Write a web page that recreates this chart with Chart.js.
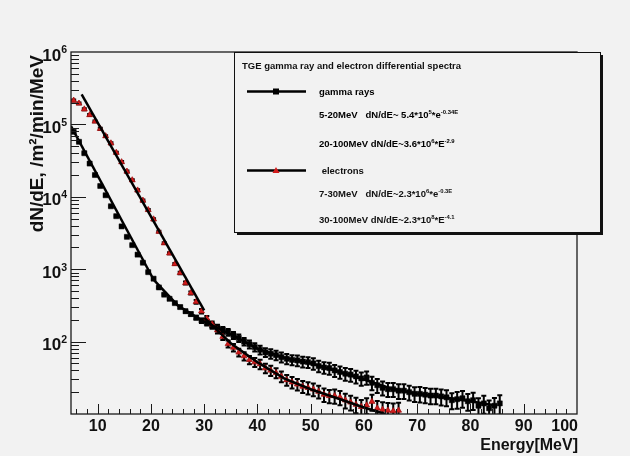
<!DOCTYPE html>
<html>
<head>
<meta charset="utf-8">
<title>TGE gamma ray and electron differential spectra</title>
<script src="https://cdn.jsdelivr.net/npm/chart.js@4.4.0/dist/chart.umd.min.js"></script>
<style>
  html, body { margin: 0; padding: 0; background: #f2f2f2; }
  canvas { display: block; }
</style>
</head>
<body>
<canvas id="spectra" width="630" height="456"></canvas>
<script>
// Gamma rays, 1 MeV bins
const gammaEnergy = [
  5.5, 6.5, 7.5, 8.5, 9.5, 10.5, 11.5, 12.5, 13.5, 14.5,
  15.5, 16.5, 17.5, 18.5, 19.5, 20.5, 21.5, 22.5, 23.5, 24.5,
  25.5, 26.5, 27.5, 28.5, 29.5, 30.5, 31.5, 32.5, 33.5, 34.5,
  35.5, 36.5, 37.5, 38.5, 39.5, 40.5, 41.5, 42.5, 43.5, 44.5,
  45.5, 46.5, 47.5, 48.5, 49.5, 50.5, 51.5, 52.5, 53.5, 54.5,
  55.5, 56.5, 57.5, 58.5, 59.5, 60.5, 61.5, 62.5, 63.5, 64.5,
  65.5, 66.5, 67.5, 68.5, 69.5, 70.5, 71.5, 72.5, 73.5, 74.5,
  75.5, 76.5, 77.5, 78.5, 79.5, 80.5, 81.5, 82.5, 83.5, 84.5,
  85.5
];
const gammaFlux = [
  79000, 57500, 40000, 28800, 20000, 14100, 10500, 7400, 5400, 3900,
  2800, 2150, 1590, 1230, 910, 740, 560, 445, 390, 340,
  300, 263, 240, 214, 195, 182, 166, 155, 145, 135,
  122, 112, 100, 92, 84, 77, 71, 68, 65, 61,
  58, 56, 55, 53, 52, 50, 46, 44, 43, 40,
  38, 36, 35, 33, 31, 32, 27, 25, 23, 22,
  22, 21, 21, 20, 19, 19, 18.5, 18, 18, 17.5,
  17, 15.5, 16, 16.5, 15, 15.5, 13, 14, 12, 13,
  14
];
// relative error of each gamma bin
const gammaErr = [
  0.02, 0.02, 0.02, 0.02, 0.02, 0.02, 0.02, 0.02, 0.02, 0.02,
  0.02, 0.02, 0.02, 0.02, 0.02, 0.02, 0.02, 0.02, 0.02, 0.02,
  0.04, 0.05, 0.05, 0.06, 0.07, 0.08, 0.09, 0.10, 0.10, 0.11,
  0.11, 0.12, 0.12, 0.13, 0.13, 0.14, 0.14, 0.15, 0.15, 0.16,
  0.16, 0.16, 0.17, 0.17, 0.17, 0.18, 0.18, 0.18, 0.19, 0.19,
  0.19, 0.20, 0.20, 0.20, 0.21, 0.21, 0.21, 0.22, 0.22, 0.22,
  0.22, 0.23, 0.23, 0.23, 0.23, 0.24, 0.24, 0.24, 0.24, 0.25,
  0.25, 0.25, 0.26, 0.26, 0.26, 0.27, 0.27, 0.28, 0.28, 0.28,
  0.30
];

// Electrons, 1 MeV bins
const electronEnergy = [
  5.5, 6.5, 7.5, 8.5, 9.5, 10.5, 11.5, 12.5, 13.5, 14.5,
  15.5, 16.5, 17.5, 18.5, 19.5, 20.5, 21.5, 22.5, 23.5, 24.5,
  25.5, 26.5, 27.5, 28.5, 29.5, 30.5, 31.5, 32.5, 33.5, 34.5,
  35.5, 36.5, 37.5, 38.5, 39.5, 40.5, 41.5, 42.5, 43.5, 44.5,
  45.5, 46.5, 47.5, 48.5, 49.5, 50.5, 51.5, 52.5, 53.5, 54.5,
  55.5, 56.5, 57.5, 58.5, 59.5, 60.5, 61.5, 62.5, 63.5, 64.5,
  65.5, 66.5
];
const electronFlux = [
  214000, 195000, 162000, 135000, 110000, 87000, 69000, 55000, 40700, 30200,
  22400, 17000, 12300, 8900, 6600, 4900, 3310, 2290, 1660, 1180,
  890, 645, 470, 355, 263, 209, 174, 144, 117, 93,
  83, 71, 63, 56, 52, 49, 43, 40, 37, 33,
  29.5, 27.5, 25.7, 24, 23, 21.9, 20.4, 18.6, 17.8, 17.8,
  17, 15.5, 14.5, 13.5, 12.6, 13.2, 14.8, 12, 11.5, 11.2,
  11, 11.2
];
const electronErr = [
  0.03, 0.03, 0.03, 0.03, 0.03, 0.03, 0.03, 0.03, 0.03, 0.03,
  0.03, 0.03, 0.03, 0.03, 0.03, 0.03, 0.03, 0.03, 0.03, 0.03,
  0.04, 0.05, 0.05, 0.06, 0.07, 0.08, 0.09, 0.10, 0.10, 0.11,
  0.12, 0.12, 0.13, 0.13, 0.14, 0.15, 0.15, 0.16, 0.16, 0.17,
  0.17, 0.18, 0.18, 0.19, 0.19, 0.20, 0.20, 0.21, 0.21, 0.22,
  0.22, 0.23, 0.23, 0.24, 0.24, 0.25, 0.25, 0.26, 0.26, 0.27,
  0.27, 0.28
];

// Fit curves as drawn on the plot
const gammaExpFitE = [5, 20.5];
const gammaExpFitY = [95000, 720];
const gammaPowFitE = [20.5, 25, 30, 35, 40, 45, 50, 55, 60, 65, 70, 75, 80, 85];
const gammaPowFitY = [720, 318, 188, 126, 80, 60, 50, 39, 30, 22.5, 19, 17, 15, 13];
const electronExpFitE = [7, 30];
const electronExpFitY = [260000, 270];
const electronPowFitE = [30, 35, 40, 45, 50, 55, 60, 64];
const electronPowFitY = [215, 95, 52, 31, 22, 16.5, 12.3, 10];

// Axes
const xMajorTicks = [10, 20, 30, 40, 50, 60, 70, 80, 90, 100];
const xTickLabels = ['10', '20', '30', '40', '50', '60', '70', '80', '90', '100'];
const yMajorTicks = [1e2, 1e3, 1e4, 1e5, 1e6];
const yTickExponents = ['2', '3', '4', '5', '6'];

const FONT = '"Liberation Sans", Arial, Helvetica, sans-serif';
const BG = '#f2f2f2';
const RED = '#d21c1c';

function toPoints(xs, ys) {
    return xs.map((x, i) => ({ x: x, y: ys[i] }));
}

// draws text made of [string, isSuperscript] parts, left aligned on baseline
function drawRich(ctx, parts, x, y, size) {
    let cx = x;
    ctx.textAlign = 'left';
    ctx.textBaseline = 'alphabetic';
    parts.forEach(([t, sup]) => {
        const fs = sup ? size * 0.62 : size;
        ctx.font = 'bold ' + fs + 'px ' + FONT;
        ctx.fillText(t, cx, sup ? y - size * 0.42 : y);
        cx += ctx.measureText(t).width;
    });
    return cx;
}

const backgroundPlugin = {
    id: 'bg',
    beforeDraw(chart) {
        const ctx = chart.ctx;
        ctx.save();
        ctx.fillStyle = BG;
        ctx.fillRect(0, 0, chart.width, chart.height);
        ctx.restore();
    }
};

const errorBarPlugin = {
    id: 'errorBars',
    beforeDatasetsDraw(chart) {
        const { ctx, chartArea, scales } = chart;
        const x = scales.x, y = scales.y;
        ctx.save();
        ctx.beginPath();
        ctx.rect(chartArea.left, chartArea.top, chartArea.right - chartArea.left, chartArea.bottom - chartArea.top);
        ctx.clip();
        ctx.strokeStyle = '#000';
        ctx.lineWidth = 2;
        chart.data.datasets.forEach(ds => {
            if (!ds.relErr) return;
            ds.data.forEach((p, i) => {
                const e = ds.relErr[i];
                const px = x.getPixelForValue(p.x);
                const yTop = y.getPixelForValue(p.y * (1 + e));
                const yBot = y.getPixelForValue(p.y * (1 - e));
                ctx.beginPath();
                ctx.moveTo(px, yTop);
                ctx.lineTo(px, yBot);
                ctx.moveTo(px - 2.5, yTop);
                ctx.lineTo(px + 2.5, yTop);
                ctx.moveTo(px - 2.5, yBot);
                ctx.lineTo(px + 2.5, yBot);
                ctx.stroke();
            });
        });
        ctx.restore();
    }
};

const framePlugin = {
    id: 'frame',
    afterDraw(chart) {
        const { ctx, chartArea, scales } = chart;
        const x = scales.x, y = scales.y;
        const L = chartArea.left, R = chartArea.right, T = chartArea.top, B = chartArea.bottom;
        ctx.save();

        // frame
        ctx.strokeStyle = '#1a1a1a';
        ctx.lineWidth = 1.3;
        ctx.strokeRect(L, T, R - L, B - T);

        // x ticks, pointing inward
        ctx.lineWidth = 1;
        ctx.beginPath();
        for (let v = 6; v < 100; v += 2) {
            const px = Math.round(x.getPixelForValue(v)) + 0.5;
            const len = v % 10 === 0 ? 10 : 5;
            ctx.moveTo(px, B);
            ctx.lineTo(px, B - len);
        }
        // y ticks
        for (let d = 10; d < 1e6; d *= 10) {
            for (let m = 1; m < 10; m++) {
                const v = d * m;
                const py = Math.round(y.getPixelForValue(v)) + 0.5;
                const len = m === 1 ? 15 : 8;
                if (m === 1 && d === 10) continue;
                ctx.moveTo(L, py);
                ctx.lineTo(L + len, py);
            }
        }
        ctx.stroke();

        // x tick labels
        ctx.fillStyle = '#111';
        ctx.font = 'bold 16px ' + FONT;
        ctx.textBaseline = 'middle';
        xMajorTicks.forEach((v, i) => {
            const px = x.getPixelForValue(v);
            if (i === xMajorTicks.length - 1) {
                ctx.textAlign = 'right';
                ctx.fillText(xTickLabels[i], px + 1, 427);
            } else {
                ctx.textAlign = 'center';
                ctx.fillText(xTickLabels[i], px, 427);
            }
        });

        // y tick labels: 10 with exponent
        yMajorTicks.forEach((v, i) => {
            const py = y.getPixelForValue(v);
            ctx.font = 'bold 10.5px ' + FONT;
            const wExp = ctx.measureText(yTickExponents[i]).width;
            ctx.font = 'bold 17px ' + FONT;
            const wTen = ctx.measureText('10').width;
            const x0 = 67 - wExp - wTen;
            drawRich(ctx, [['10', false], [yTickExponents[i], true]], x0, py + 8.5, 17);
        });

        // axis titles
        ctx.font = 'bold 16px ' + FONT;
        ctx.textAlign = 'right';
        ctx.textBaseline = 'alphabetic';
        ctx.fillText('Energy[MeV]', R + 1, 450);

        ctx.save();
        ctx.translate(43, T + 3);
        ctx.rotate(-Math.PI / 2);
        ctx.font = 'bold 19px ' + FONT;
        ctx.textAlign = 'right';
        ctx.textBaseline = 'alphabetic';
        ctx.fillText('dN/dE, /m\u00b2/min/MeV', 0, 0);
        ctx.restore();

        // legend box
        const lx = 234, ly = 52, lw = 366, lh = 180;
        ctx.fillStyle = '#111';
        ctx.fillRect(lx + 3, ly + 3, lw, lh);
        ctx.fillStyle = BG;
        ctx.fillRect(lx, ly, lw, lh);
        ctx.strokeStyle = '#111';
        ctx.lineWidth = 1;
        ctx.strokeRect(lx + 0.5, ly + 0.5, lw, lh);

        ctx.fillStyle = '#111';
        drawRich(ctx, [['TGE gamma ray and electron differential spectra', false]], 242, 69, 9.5);

        // gamma entry
        ctx.strokeStyle = '#000';
        ctx.lineWidth = 2.5;
        ctx.beginPath();
        ctx.moveTo(247, 91.5);
        ctx.lineTo(306, 91.5);
        ctx.stroke();
        ctx.fillStyle = '#000';
        ctx.fillRect(273, 88.5, 6, 6);
        drawRich(ctx, [['gamma rays', false]], 319, 95, 9.5);
        drawRich(ctx, [['5-20MeV   dN/dE~ 5.4*10', false], ['5', true], ['*e', false], ['-0.34E', true]], 319, 117.5, 9.5);
        drawRich(ctx, [['20-100MeV dN/dE~3.6*10', false], ['6', true], ['*E', false], ['-2.9', true]], 319, 147, 9.5);

        // electron entry
        ctx.beginPath();
        ctx.moveTo(247, 170.5);
        ctx.lineTo(306, 170.5);
        ctx.stroke();
        ctx.fillStyle = RED;
        ctx.beginPath();
        ctx.moveTo(276, 167);
        ctx.lineTo(279.5, 173);
        ctx.lineTo(272.5, 173);
        ctx.closePath();
        ctx.fill();
        ctx.fillStyle = '#111';
        drawRich(ctx, [[' electrons', false]], 319, 174, 9.5);
        drawRich(ctx, [['7-30MeV   dN/dE~2.3*10', false], ['6', true], ['*e', false], ['-0.3E', true]], 319, 197, 9.5);
        drawRich(ctx, [['30-100MeV dN/dE~2.3*10', false], ['8', true], ['*E', false], ['-4.1', true]], 319, 222.5, 9.5);

        ctx.restore();
    }
};

const fitStyle = {
    showLine: true,
    borderColor: '#000',
    borderWidth: 2.5,
    pointRadius: 0,
    fill: false,
    order: 0
};

new Chart(document.getElementById('spectra'), {
    type: 'scatter',
    data: {
        datasets: [
            Object.assign({ label: 'gamma fit 5-20MeV', data: toPoints(gammaExpFitE, gammaExpFitY) }, fitStyle),
            Object.assign({ label: 'gamma fit 20-100MeV', data: toPoints(gammaPowFitE, gammaPowFitY) }, fitStyle),
            Object.assign({ label: 'electron fit 7-30MeV', data: toPoints(electronExpFitE, electronExpFitY) }, fitStyle),
            Object.assign({ label: 'electron fit 30-100MeV', data: toPoints(electronPowFitE, electronPowFitY) }, fitStyle),
            {
                label: 'electrons',
                data: toPoints(electronEnergy, electronFlux),
                relErr: electronErr,
                pointStyle: 'triangle',
                pointRadius: 3.4,
                backgroundColor: RED,
                borderColor: '#a01010',
                borderWidth: 0.8,
                order: 1
            },
            {
                label: 'gamma rays',
                data: toPoints(gammaEnergy, gammaFlux),
                relErr: gammaErr,
                pointStyle: 'rect',
                pointRadius: 3.6,
                backgroundColor: '#000',
                borderColor: '#000',
                borderWidth: 0.5,
                order: 2
            }
        ]
    },
    options: {
        responsive: false,
        animation: false,
        layout: { padding: { left: 71, right: 53, top: 52, bottom: 42 } },
        plugins: {
            legend: { display: false },
            tooltip: { enabled: false }
        },
        scales: {
            x: { type: 'linear', min: 5, max: 100, display: false },
            y: { type: 'logarithmic', min: 10, max: 1e6, display: false }
        }
    },
    plugins: [backgroundPlugin, errorBarPlugin, framePlugin]
});
</script>
</body>
</html>
